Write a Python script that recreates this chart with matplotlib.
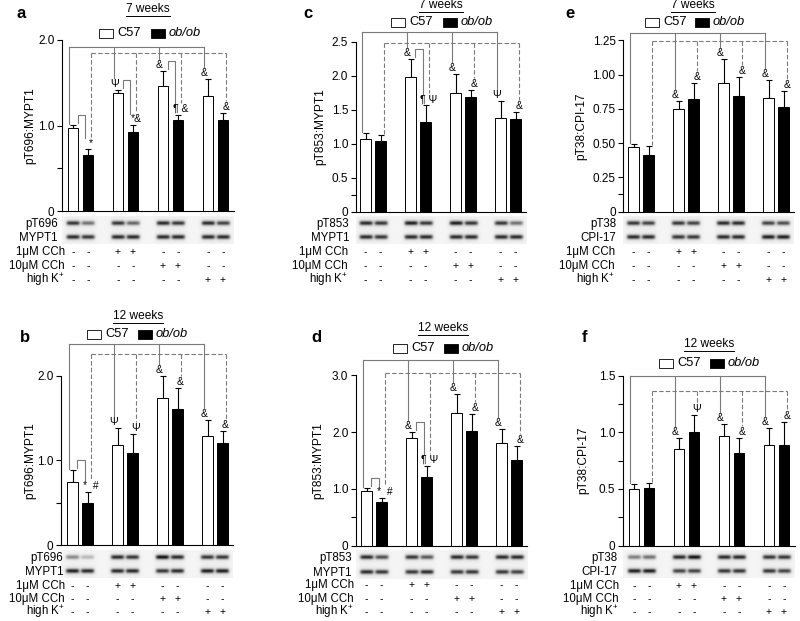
import numpy as np
import matplotlib
matplotlib.use("Agg")
from matplotlib import pyplot as plt
from matplotlib import transforms
from matplotlib.patches import Rectangle
from matplotlib.lines import Line2D

plt.rcParams['font.family'] = ['Liberation Sans', 'DejaVu Sans']
plt.rcParams['mathtext.default'] = 'regular'

# bar order: basal, 1uM CCh, 10uM CCh, high K+ ; C57 / ob/ob pairs
c57_pos = [0, 3, 6, 9]
ob_pos = [1, 4, 7, 10]

# a : 7 weeks pT696:MYPT1
a_c57 = [0.97, 1.38, 1.46, 1.345]
a_c57_err = [0.04, 0.04, 0.18, 0.20]
a_ob = [0.66, 0.92, 1.06, 1.06]
a_ob_err = [0.07, 0.09, 0.06, 0.09]
a_sym = ['', '*', '\u03a8', '*&', '&', '\u00b6 &', '&', '&']

# b : 12 weeks pT696:MYPT1
b_c57 = [0.74, 1.18, 1.73, 1.29]
b_c57_err = [0.15, 0.20, 0.27, 0.18]
b_ob = [0.50, 1.09, 1.60, 1.20]
b_ob_err = [0.12, 0.22, 0.25, 0.15]
b_sym = ['', '*  #', '\u03a8', '\u03a8', '&', '&', '&', '&']

# c : 7 weeks pT853:MYPT1
c_c57 = [1.07, 1.98, 1.75, 1.38]
c_c57_err = [0.08, 0.26, 0.27, 0.25]
c_ob = [1.03, 1.31, 1.69, 1.36]
c_ob_err = [0.10, 0.25, 0.10, 0.10]
c_sym = ['', '', '&', '\u00b6 \u03a8', '&', '&', '\u03a8', '&']

# d : 12 weeks pT853:MYPT1
d_c57 = [0.97, 1.90, 2.33, 1.80]
d_c57_err = [0.04, 0.10, 0.35, 0.25]
d_ob = [0.77, 1.20, 2.02, 1.50]
d_ob_err = [0.06, 0.20, 0.30, 0.25]
d_sym = ['', '*  #', '&', '\u00b6 \u03a8', '&', '&', '&', '&']

# e : 7 weeks pT38:CPI-17
e_c57 = [0.47, 0.745, 0.94, 0.83]
e_c57_err = [0.02, 0.06, 0.17, 0.13]
e_ob = [0.41, 0.82, 0.84, 0.76]
e_ob_err = [0.065, 0.115, 0.145, 0.12]
e_sym = ['', '', '&', '&', '&', '&', '&', '&']

# f : 12 weeks pT38:CPI-17
f_c57 = [0.50, 0.85, 0.97, 0.89]
f_c57_err = [0.045, 0.10, 0.10, 0.15]
f_ob = [0.51, 1.00, 0.82, 0.89]
f_ob_err = [0.045, 0.15, 0.125, 0.20]
f_sym = ['', '', '&', '\u03a8', '&', '&', '&', '&']

# blot band darkness per lane (0 = none, 1 = black)
a_blot_p = [0.8, 0.55, 0.8, 0.6, 0.85, 0.8, 0.85, 0.75]
a_blot_t = [0.85, 0.8, 0.85, 0.85, 0.85, 0.85, 0.85, 0.85]
b_blot_p = [0.45, 0.25, 0.85, 0.8, 0.95, 0.85, 0.8, 0.8]
b_blot_t = [0.9, 0.85, 0.85, 0.85, 0.8, 0.85, 0.9, 0.9]
c_blot_p = [0.85, 0.8, 0.9, 0.8, 0.9, 0.8, 0.8, 0.55]
c_blot_t = [0.85, 0.8, 0.85, 0.85, 0.85, 0.85, 0.85, 0.85]
d_blot_p = [0.85, 0.7, 0.8, 0.65, 0.85, 0.8, 0.85, 0.85]
d_blot_t = [0.85, 0.8, 0.8, 0.85, 0.8, 0.8, 0.8, 0.75]
e_blot_p = [0.8, 0.75, 0.8, 0.75, 0.85, 0.85, 0.75, 0.7]
e_blot_t = [0.85, 0.85, 0.8, 0.8, 0.85, 0.85, 0.9, 0.9]
f_blot_p = [0.5, 0.55, 0.85, 0.95, 0.85, 0.85, 0.8, 0.8]
f_blot_t = [0.9, 0.9, 0.75, 0.75, 0.8, 0.8, 0.8, 0.75]

cch1 = ['-', '-', '+', '+', '-', '-', '-', '-']
cch10 = ['-', '-', '-', '-', '+', '+', '-', '-']
highk = ['-', '-', '-', '-', '-', '-', '+', '+']
treat_labels = ['1\u03bcM CCh', '10\u03bcM CCh', 'high K$^{+}$']

W, H = 800, 621
fig = plt.figure(figsize=(W / 100, H / 100), dpi=100)
titles = []


def fx(x):
    return x / W


def fy(y):
    return 1 - y / H


def panel(letter, lxy, title, txy, leg_y, leg_x, ylabel, ylab_x,
          c57, c57e, ob, obe, syms, small, br_s, br_d,
          spine, cx0, y0, ppu, top, yticks, ylabs, minor,
          blot_p, blot_t, blot_names, blot_y, blot_lx, treat_y, treat_lx):
    xr = 10.7
    right = cx0 + 15 * xr
    xl = (spine - cx0) / 15
    ax = fig.add_axes([fx(spine), fy(y0), (right - spine) / W, (y0 - top) / H])
    ax.set_xlim(xl, xr)
    ax.set_ylim(0, (y0 - top) / ppu)
    ax.patch.set_alpha(0)

    ax.bar(c57_pos, c57, width=0.7, color='white', edgecolor='black', linewidth=0.7, zorder=2)
    ax.bar(ob_pos, ob, width=0.7, color='black', edgecolor='black', linewidth=0.7, zorder=2)
    ax.errorbar(c57_pos, c57, yerr=[np.zeros(4), c57e], fmt='none', ecolor='black',
                elinewidth=0.8, capsize=2.5, capthick=0.8, zorder=1)
    ax.errorbar(ob_pos, ob, yerr=[np.zeros(4), obe], fmt='none', ecolor='black',
                elinewidth=0.8, capsize=2.5, capthick=0.8, zorder=1)

    pos_all = [p for pair in zip(c57_pos, ob_pos) for p in pair]
    tops = [v + e for pair in zip(zip(c57, c57e), zip(ob, obe)) for v, e in pair]
    dx = [-0.25, 0.2] * 4
    gray = '#7a7a7a'
    px = 1.0 / ppu
    ends = []
    for i, (p, t, s) in enumerate(zip(pos_all, tops, syms)):
        if s:
            sy = t + 6 * px
            ax.text(p + dx[i], sy, s, ha='center', va='center', fontsize=7.5, clip_on=False)
            ends.append(sy + 6 * px)
        else:
            ends.append(t + 1 * px)

    # main comparison brackets
    for idx, yb, ls in [([0, 2, 4, 6], br_s, '-'), ([1, 3, 5, 7], br_d, (0, (4, 2)))]:
        xs = [pos_all[i] + dx[i] for i in idx]
        ax.plot([xs[0], xs[-1]], [yb, yb], color=gray, lw=0.8, ls=ls, clip_on=False)
        for i, xv in zip(idx, xs):
            ax.plot([xv, xv], [yb, ends[i]], color=gray, lw=0.8, ls=ls, clip_on=False)

    # C57 vs ob/ob brackets
    for i, j in small:
        yt = tops[i] + 10 * px
        xa = pos_all[i] + 0.3
        xb = pos_all[j] - 0.2
        ax.plot([xa, xa, xb, xb], [tops[i] + 2 * px, yt, yt, ends[j] - 1 * px],
                color=gray, lw=0.8, clip_on=False)

    for sp in ['top', 'right']:
        ax.spines[sp].set_visible(False)
    for sp in ['left', 'bottom']:
        ax.spines[sp].set_linewidth(0.8)
    ax.spines['left'].set_bounds(0, yticks[-1])
    ax.set_xticks([])
    ax.set_yticks(yticks)
    ax.set_yticklabels(ylabs)
    ax.set_yticks(minor, minor=True)
    ax.tick_params(axis='y', which='both', direction='out', length=3.5, width=0.8,
                   labelsize=8.5, pad=2)

    fig.text(fx(ylab_x), fy(y0 - ppu * yticks[-1] / 2), ylabel, rotation=90,
             ha='center', va='center', fontsize=8.6)
    fig.text(fx(lxy[0]), fy(lxy[1]), letter, ha='center', va='center',
             fontsize=12, fontweight='bold')
    t = fig.text(fx(txy[0]), fy(txy[1]), title, ha='center', va='center', fontsize=8.6)
    titles.append(t)

    # legend
    for x0, fc, lab, st in [(leg_x[0], 'white', 'C57', 'normal'),
                            (leg_x[1], 'black', 'ob/ob', 'italic')]:
        fig.add_artist(Rectangle((fx(x0), fy(leg_y + 4.5)), 14 / W, 9 / H,
                                 transform=fig.transFigure, facecolor=fc,
                                 edgecolor='black', lw=0.6))
        fig.text(fx(x0 + 18), fy(leg_y), lab, ha='left', va='center',
                 fontsize=9.3, style=st)

    # blot strip
    yb0, yb1 = blot_y[0] - 7, blot_y[1] + 7
    bax = fig.add_axes([fx(spine), fy(yb1), (right - spine) / W, (yb1 - yb0) / H])
    xs = np.linspace(xl, xr, 700)
    ys = np.linspace(yb0, yb1, 90)
    X, Y = np.meshgrid(xs, ys)
    img = np.full(X.shape, 0.96)
    for row, yc in zip([blot_p, blot_t], blot_y):
        for p, dk in zip(pos_all, row):
            img -= 0.85 * dk * np.exp(-((X - p) / 0.44) ** 6) * np.exp(-((Y - yc) / 2.1) ** 2)
            img -= 0.10 * dk * np.exp(-((X - p) / 0.55) ** 4) * np.exp(-((Y - yc) / 5.0) ** 2)
    bax.imshow(img, extent=[xl, xr, yb1, yb0], cmap='gray', vmin=0, vmax=1,
               aspect='auto', interpolation='bilinear')
    bax.set_xlim(xl, xr)
    bax.axis('off')
    for name, yc in zip(blot_names, blot_y):
        fig.text(fx(blot_lx), fy(yc + 1), name, ha='right', va='center', fontsize=8.3)

    # treatment table
    trans = transforms.blended_transform_factory(ax.transData, fig.transFigure)
    for lab, signs, yc in zip(treat_labels, [cch1, cch10, highk], treat_y):
        fig.text(fx(treat_lx), fy(yc), lab, ha='right', va='center', fontsize=8.3)
        for p, s in zip(pos_all, signs):
            fig.text(p, fy(yc), s, transform=trans, ha='center', va='center', fontsize=7.5)


panel('a', (21, 13), '7 weeks', (148, 9), 33, (99, 151), 'pT696:MYPT1', 30,
      a_c57, a_c57_err, a_ob, a_ob_err, a_sym, [(0, 1), (2, 3), (4, 5)], 1.92, 1.85,
      62, 73, 211, 85.5, 28, [0, 1.0, 2.0], ['0', '1.0', '2.0'], [0.5],
      a_blot_p, a_blot_t, ['pT696', 'MYPT1'], (223, 237), 58, (252, 266, 280), 65)

panel('b', (25, 337), '12 weeks', (138, 316), 334, (87, 138), 'pT696:MYPT1', 30,
      b_c57, b_c57_err, b_ob, b_ob_err, b_sym, [(0, 1)], 2.37, 2.25,
      61, 72.5, 545, 84.7, 338, [0, 1.0, 2.0], ['0', '1.0', '2.0'], [0.5],
      b_blot_p, b_blot_t, ['pT696', 'MYPT1'], (557, 571), 63, (586, 599, 612), 65)

panel('c', (308, 13), '7 weeks', (441, 5), 22, (391, 443), 'pT853:MYPT1', 320,
      c_c57, c_c57_err, c_ob, c_ob_err, c_sym, [(2, 3)], 2.635, 2.48,
      355.7, 365.7, 211.5, 68, 26, [0, 0.5, 1.0, 1.5, 2.0, 2.5],
      ['0', '0.5', '1.0', '1.5', '2.0', '2.5'], [0.25],
      c_blot_p, c_blot_t, ['pT853', 'MYPT1'], (223, 237), 349, (252, 266, 280), 348)

panel('d', (316, 337), '12 weeks', (443, 328), 348, (393, 444), 'pT853:MYPT1', 318,
      d_c57, d_c57_err, d_ob, d_ob_err, d_sym, [(0, 1), (2, 3)], 3.28, 3.05,
      356, 366.7, 545.5, 56.7, 352, [0, 1.0, 2.0, 3.0], ['0', '1.0', '2.0', '3.0'],
      [0.5],
      d_blot_p, d_blot_t, ['pT853', 'MYPT1'], (557, 572), 352, (585, 599, 612), 354)

panel('e', (570, 13), '7 weeks', (693, 5), 22, (645, 695), 'pT38:CPI-17', 581,
      e_c57, e_c57_err, e_ob, e_ob_err, e_sym, [], 1.305, 1.247,
      623.3, 633.7, 211.5, 137, 26, [0, 0.25, 0.5, 0.75, 1.0, 1.25],
      ['0', '0.25', '0.50', '0.75', '1.00', '1.25'], [0.125],
      e_blot_p, e_blot_t, ['pT38', 'CPI-17'], (223, 237), 616, (252, 266, 280), 615)

panel('f', (585, 337), '12 weeks', (709, 344), 363, (659, 710), 'pT38:CPI-17', 583,
      f_c57, f_c57_err, f_ob, f_ob_err, f_sym, [], 1.50, 1.366,
      622.7, 634, 545.5, 113.3, 368, [0, 0.5, 1.0, 1.5], ['0', '0.5', '1.0', '1.5'],
      [0.25, 0.75, 1.25],
      f_blot_p, f_blot_t, ['pT38', 'CPI-17'], (557, 571), 617, (586, 599, 612), 619)

# underline the age titles
fig.canvas.draw()
for t in titles:
    bb = t.get_window_extent()
    fig.add_artist(Line2D([bb.x0 / W, bb.x1 / W], [(bb.y0 - 1) / H] * 2,
                          transform=fig.transFigure, color='black', lw=0.7))

fig.savefig('out.png', dpi=100)
